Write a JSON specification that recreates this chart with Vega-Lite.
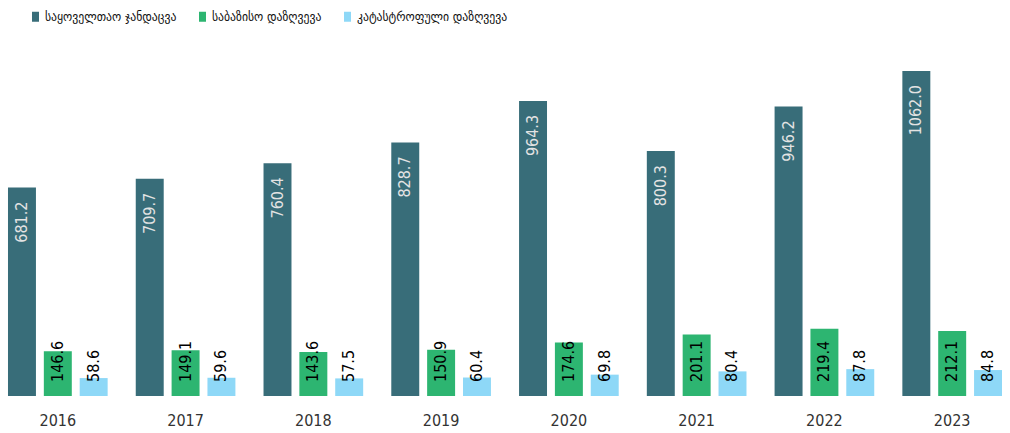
{
  "$schema": "https://vega.github.io/schema/vega-lite/v6.json",
  "width": 1010,
  "height": 325,
  "autosize": {"type": "none"},
  "padding": {"left": 0, "right": 0, "top": 71, "bottom": 37},
  "background": "white",
  "config": {"view": {"stroke": null}},
  "data": {"values": [
    {"year": "2016", "series": "საყოველთაო ჯანდაცვა", "value": 681.2},
    {"year": "2016", "series": "საბაზისო დაზღვევა", "value": 146.6},
    {"year": "2016", "series": "კატასტროფული დაზღვევა", "value": 58.6},
    {"year": "2017", "series": "საყოველთაო ჯანდაცვა", "value": 709.7},
    {"year": "2017", "series": "საბაზისო დაზღვევა", "value": 149.1},
    {"year": "2017", "series": "კატასტროფული დაზღვევა", "value": 59.6},
    {"year": "2018", "series": "საყოველთაო ჯანდაცვა", "value": 760.4},
    {"year": "2018", "series": "საბაზისო დაზღვევა", "value": 143.6},
    {"year": "2018", "series": "კატასტროფული დაზღვევა", "value": 57.5},
    {"year": "2019", "series": "საყოველთაო ჯანდაცვა", "value": 828.7},
    {"year": "2019", "series": "საბაზისო დაზღვევა", "value": 150.9},
    {"year": "2019", "series": "კატასტროფული დაზღვევა", "value": 60.4},
    {"year": "2020", "series": "საყოველთაო ჯანდაცვა", "value": 964.3},
    {"year": "2020", "series": "საბაზისო დაზღვევა", "value": 174.6},
    {"year": "2020", "series": "კატასტროფული დაზღვევა", "value": 69.8},
    {"year": "2021", "series": "საყოველთაო ჯანდაცვა", "value": 800.3},
    {"year": "2021", "series": "საბაზისო დაზღვევა", "value": 201.1},
    {"year": "2021", "series": "კატასტროფული დაზღვევა", "value": 80.4},
    {"year": "2022", "series": "საყოველთაო ჯანდაცვა", "value": 946.2},
    {"year": "2022", "series": "საბაზისო დაზღვევა", "value": 219.4},
    {"year": "2022", "series": "კატასტროფული დაზღვევა", "value": 87.8},
    {"year": "2023", "series": "საყოველთაო ჯანდაცვა", "value": 1062.0},
    {"year": "2023", "series": "საბაზისო დაზღვევა", "value": 212.1},
    {"year": "2023", "series": "კატასტროფული დაზღვევა", "value": 84.8}
  ]},
  "encoding": {
    "x": {
      "field": "year", "type": "nominal",
      "scale": {"paddingInner": 0.22, "paddingOuter": 0.0625},
      "axis": {"title": null, "labelAngle": 0, "domain": false, "ticks": false, "labelFont": "DejaVu Sans Condensed, DejaVu Sans", "labelFontSize": 16, "labelColor": "#333333", "labelPadding": 16}
    },
    "xOffset": {
      "field": "series", "type": "nominal",
      "scale": {"domain": ["საყოველთაო ჯანდაცვა", "საბაზისო დაზღვევა", "კატასტროფული დაზღვევა"], "paddingInner": 0.22, "paddingOuter": 0}
    },
    "y": {"field": "value", "type": "quantitative", "scale": {"domain": [0, 1062], "nice": false}, "axis": null}
  },
  "layer": [
    {
      "mark": {"type": "bar"},
      "encoding": {
        "color": {
          "field": "series", "type": "nominal",
          "scale": {"domain": ["საყოველთაო ჯანდაცვა", "საბაზისო დაზღვევა", "კატასტროფული დაზღვევა"], "range": ["#386d79", "#2db571", "#8ed8f7"]},
          "legend": {"orient": "none", "legendX": 29, "legendY": -61, "direction": "horizontal", "title": null, "symbolType": "M-0.7,-1H0.7V1H-0.7Z", "symbolSize": 100, "symbolStrokeWidth": 0, "labelFont": "DejaVu Sans Condensed, DejaVu Sans", "labelFontSize": 13, "labelColor": "#111111", "labelLimit": 400, "columnPadding": 19, "labelOffset": 3}
        }
      }
    },
    {
      "transform": [{"filter": "datum.series === 'საყოველთაო ჯანდაცვა'"}],
      "mark": {"type": "text", "angle": 270, "align": "right", "baseline": "middle", "dx": -14, "color": "#e3e3e3", "font": "DejaVu Sans Condensed, DejaVu Sans", "fontSize": 16},
      "encoding": {"text": {"field": "value", "type": "quantitative", "format": ".1f"}}
    },
    {
      "transform": [{"filter": "datum.series !== 'საყოველთაო ჯანდაცვა'"}],
      "mark": {"type": "text", "angle": 270, "align": "left", "baseline": "middle", "dx": 14, "color": "#000000", "font": "DejaVu Sans Condensed, DejaVu Sans", "fontSize": 16},
      "encoding": {"text": {"field": "value", "type": "quantitative", "format": ".1f"}, "y": {"datum": 0}}
    }
  ]
}
